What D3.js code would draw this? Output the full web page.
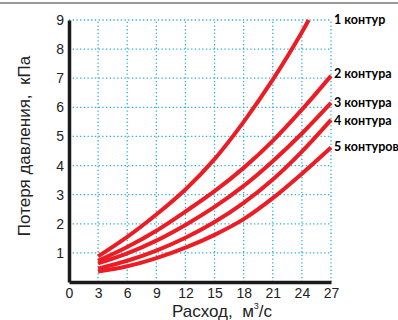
<!DOCTYPE html>
<html>
<head>
<meta charset="utf-8">
<script src="https://cdn.jsdelivr.net/npm/d3@7"></script>
<style>
  body { margin: 0; background: #fff; }
  svg { display: block; }
</style>
</head>
<body>
<div id="chart"></div>
<script>
// данные кривых (расход, м3/с -> потеря давления, кПа)
var flow = [3, 6, 9, 12, 15, 18, 21, 24, 27];
var flow1 = [3, 6, 9, 12, 15, 18, 21, 24, 24.7];
var loss1 = [0.88, 1.55, 2.32, 3.18, 4.22, 5.5, 6.95, 8.58, 9.0];
var loss2 = [0.73, 1.2, 1.76, 2.42, 3.12, 3.92, 4.85, 5.92, 7.08];
var loss3 = [0.64, 0.98, 1.42, 1.96, 2.58, 3.3, 4.15, 5.1, 6.15];
var loss4 = [0.46, 0.73, 1.08, 1.52, 2.06, 2.72, 3.52, 4.48, 5.57];
var loss5 = [0.36, 0.54, 0.82, 1.18, 1.62, 2.16, 2.88, 3.72, 4.62];
var seriesNames = ["1 контур", "2 контура", "3 контура", "4 контура", "5 контуров"];
var xTicks = [0, 3, 6, 9, 12, 15, 18, 21, 24, 27];
var yTicks = [1, 2, 3, 4, 5, 6, 7, 8, 9];

var series = [
    {name: seriesNames[0], xs: flow1, ys: loss1},
    {name: seriesNames[1], xs: flow, ys: loss2},
    {name: seriesNames[2], xs: flow, ys: loss3},
    {name: seriesNames[3], xs: flow, ys: loss4},
    {name: seriesNames[4], xs: flow, ys: loss5}
];

var W = 398, H = 320;
var margin = {top: 20, right: 67, bottom: 38, left: 69};
var width = W - margin.left - margin.right;
var height = H - margin.top - margin.bottom;

var root = d3.select("#chart").append("svg")
    .attr("width", W)
    .attr("height", H);

// серая линия сверху
root.append("line")
    .attr("x1", 0).attr("x2", W)
    .attr("y1", 3).attr("y2", 3)
    .attr("stroke", "#9a9a9a")
    .attr("stroke-width", 2);

var svg = root.append("g")
    .attr("transform", "translate(" + margin.left + "," + margin.top + ")");

var x = d3.scaleLinear().domain([0, 27]).range([0, width]);
var y = d3.scaleLinear().domain([0, 9]).range([height, 0]);

// сетка пунктиром
svg.append("g")
    .selectAll("line")
    .data(xTicks.filter(d => d > 0))
    .enter().append("line")
        .attr("x1", d => x(d)).attr("x2", d => x(d))
        .attr("y1", y(0)).attr("y2", y(9))
        .attr("stroke", "#2aaee6")
        .attr("stroke-width", 1.3)
        .attr("stroke-dasharray", "1.3,2.4");

svg.append("g")
    .selectAll("line")
    .data(yTicks)
    .enter().append("line")
        .attr("x1", x(0)).attr("x2", x(27))
        .attr("y1", d => y(d)).attr("y2", d => y(d))
        .attr("stroke", "#2aaee6")
        .attr("stroke-width", 1.3)
        .attr("stroke-dasharray", "1.3,2.4");

// оси
var xAxis = svg.append("g")
    .attr("transform", "translate(0," + height + ")")
    .call(d3.axisBottom(x).tickValues(xTicks).tickSize(0).tickPadding(6));
var yAxis = svg.append("g")
    .call(d3.axisLeft(y).tickValues(yTicks).tickSize(0).tickPadding(5));

[xAxis, yAxis].forEach(function(a) {
    a.select(".domain").attr("stroke", "#1a1a1a").attr("stroke-width", 3.5);
    a.selectAll("text")
        .attr("font-family", "Liberation Sans, Arial, sans-serif")
        .attr("font-size", 14)
        .attr("fill", "#222");
});

// кривые
var line = d3.line()
    .x(d => x(d[0]))
    .y(d => y(d[1]))
    .curve(d3.curveCatmullRom.alpha(0.5));

svg.selectAll(".curve")
    .data(series)
    .enter().append("path")
        .attr("class", "curve")
        .attr("d", s => line(s.xs.map((v, i) => [v, s.ys[i]])))
        .attr("fill", "none")
        .attr("stroke", "#ec1c24")
        .attr("stroke-width", 4);

// подписи кривых
var labelY = [9.0, 7.15, 6.15, 5.55, 4.65];
svg.selectAll(".lbl")
    .data(series)
    .enter().append("text")
        .attr("class", "lbl")
        .attr("x", width + 3)
        .attr("y", (s, i) => y(labelY[i]))
        .attr("dy", "0.35em")
        .attr("font-family", "Lato, sans-serif")
        .attr("font-weight", "bold")
        .attr("font-size", 12.5)
        .attr("fill", "#000")
        .text(s => s.name);

// подписи осей
var xt = root.append("text")
    .attr("x", 222)
    .attr("y", 317)
    .attr("text-anchor", "middle")
    .attr("font-family", "Liberation Sans, Arial, sans-serif")
    .attr("font-size", 17)
    .attr("fill", "#222");
xt.append("tspan").text("Расход,\u00a0\u00a0м");
xt.append("tspan").attr("font-size", 9).attr("dy", -8).text("3");
xt.append("tspan").attr("dy", 8).text("/с");

root.append("text")
    .attr("transform", "translate(30,146) rotate(-90)")
    .attr("text-anchor", "middle")
    .attr("font-family", "Liberation Sans, Arial, sans-serif")
    .attr("font-size", 17)
    .attr("fill", "#222")
    .text("Потеря давления,\u00a0\u00a0кПа");
</script>
</body>
</html>
